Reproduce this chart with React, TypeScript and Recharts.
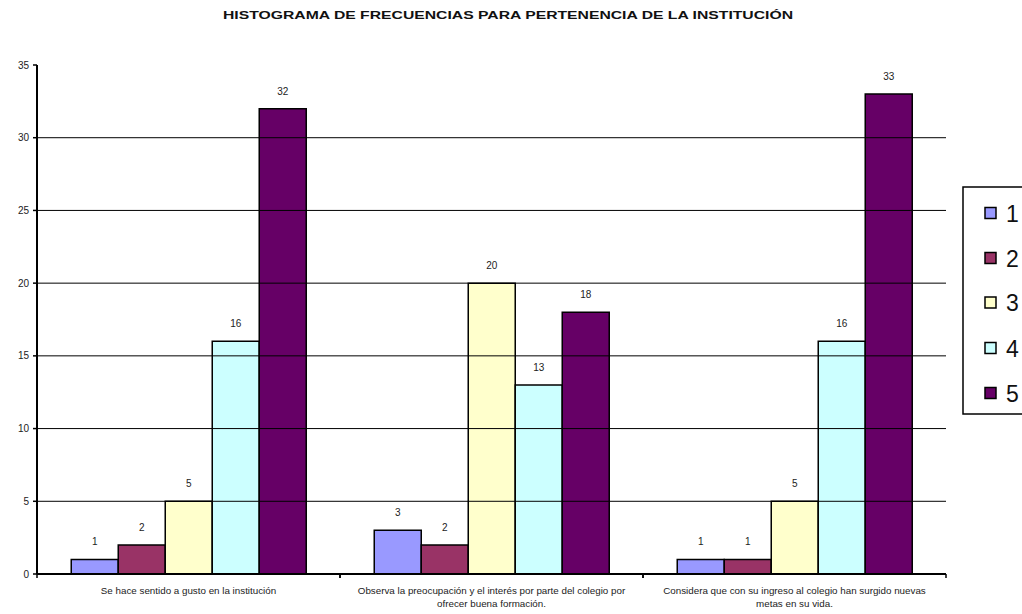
import React from 'react';
import { BarChart, Bar, XAxis, YAxis, ReferenceLine, LabelList } from 'recharts';

const categories: string[][] = [
  ['Se hace sentido a gusto en la institución'],
  ['Observa la preocupación y el interés por parte del colegio por', 'ofrecer buena  formación.'],
  ['Considera que con su ingreso al colegio han surgido nuevas', 'metas en su vida.'],
];
const series1 = [1, 3, 1];
const series2 = [2, 2, 1];
const series3 = [5, 20, 5];
const series4 = [16, 13, 16];
const series5 = [32, 18, 33];
const seriesNames = ['1', '2', '3', '4', '5'];
const seriesColors = ['#9999FF', '#993366', '#FFFFCC', '#CCFFFF', '#660066'];
const yTicks = [0, 5, 10, 15, 20, 25, 30, 35];
const gridValues = [5, 10, 15, 20, 25, 30];
const title = 'HISTOGRAMA DE FRECUENCIAS PARA PERTENENCIA DE LA INSTITUCIÓN';

const allSeries = [series1, series2, series3, series4, series5];
const data = categories.map((lines, i) => {
  const row: Record<string, any> = { name: lines.join('|') };
  allSeries.forEach((s, k) => {
    row['s' + (k + 1)] = s[i];
  });
  return row;
});

const W = 1022;
const H = 614;
const MARGIN = { top: 65, right: 76, bottom: 0, left: 0 };
const Y_W = 37;
const X_H = 40;
const PLOT_W = W - MARGIN.right - MARGIN.left - Y_W;
const FONT = '"Liberation Sans", Arial, sans-serif';

const CatTick = (props: any) => {
  const { x, y, payload } = props;
  const half = PLOT_W / categories.length / 2;
  const lines = String(payload.value).split('|');
  return (
    <g>
      <line x1={x - half} x2={x - half} y1={y} y2={y + 4} stroke="#000" strokeWidth={1.5} />
      <line x1={x + half} x2={x + half} y1={y} y2={y + 4} stroke="#000" strokeWidth={1.5} />
      <text x={x} y={y} textAnchor="middle" fontSize={9.8} fill="#222" fontFamily={FONT}>
        {lines.map((l, i) => (
          <tspan key={i} x={x} dy={i === 0 ? 19.5 : 13.5}>
            {l}
          </tspan>
        ))}
      </text>
    </g>
  );
};

const legendYs = [213, 258, 302.5, 348, 393];

export default function App() {
  return (
    <div style={{ position: 'absolute', left: 0, top: 0, width: W, height: H, background: '#fff', fontFamily: FONT, overflow: 'hidden' }}>
      <BarChart
        width={W}
        height={H}
        data={data}
        margin={MARGIN}
        barCategoryGap="11.3%"
        barGap={0}
      >
        <XAxis
          dataKey="name"
          height={X_H}
          axisLine={{ stroke: '#000', strokeWidth: 2 }}
          tickLine={false}
          tickSize={0}
          tickMargin={0}
          interval={0}
          tick={<CatTick />}
        />
        <YAxis
          width={Y_W}
          domain={[0, 35]}
          ticks={yTicks}
          interval={0}
          axisLine={{ stroke: '#000', strokeWidth: 2 }}
          tickLine={{ stroke: '#000', strokeWidth: 1.5 }}
          tickSize={4}
          tickMargin={4}
          tick={{ fontSize: 10, fill: '#222', fontFamily: FONT }}
        />
        {gridValues.map((v) => (
          <ReferenceLine key={v} y={v} stroke="#000" strokeWidth={1} />
        ))}
        {seriesNames.map((n, k) => (
          <Bar
            key={n}
            dataKey={'s' + (k + 1)}
            name={n}
            fill={seriesColors[k]}
            stroke="#000"
            strokeWidth={1.5}
            isAnimationActive={false}
          >
            <LabelList
              dataKey={'s' + (k + 1)}
              position="top"
              offset={14}
              fontSize={10}
              fill="#222"
              fontFamily={FONT}
            />
          </Bar>
        ))}
      </BarChart>
      <svg width={W} height={H} style={{ position: 'absolute', left: 0, top: 0, pointerEvents: 'none' }}>
        <text
          x={508}
          y={18.7}
          textAnchor="middle"
          fontWeight="bold"
          fontSize={10.3}
          fill="#111"
          fontFamily={FONT}
          textLength={570}
          lengthAdjust="spacingAndGlyphs"
        >
          {title}
        </text>
        <rect x={963} y={187} width={80} height={227} fill="#fff" stroke="#000" strokeWidth={1.5} />
        {seriesNames.map((n, k) => (
          <g key={n}>
            <rect x={985} y={legendYs[k] - 5.5} width={11} height={11} fill={seriesColors[k]} stroke="#000" strokeWidth={1.5} />
            <text x={1006} y={legendYs[k] + 8.5} fontSize={23} fill="#111" fontFamily={FONT}>
              {n}
            </text>
          </g>
        ))}
      </svg>
    </div>
  );
}
